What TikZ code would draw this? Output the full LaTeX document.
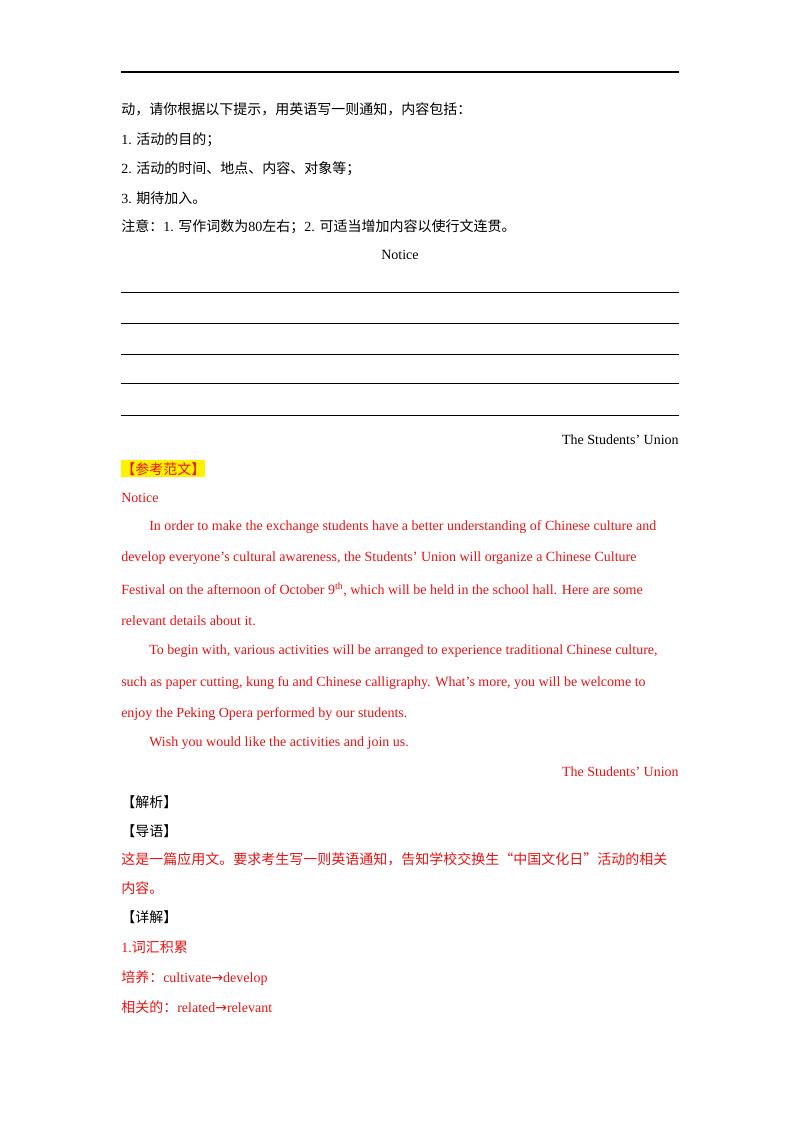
\documentclass[tikz,border=0pt]{standalone}
\usepackage{fontspec}
\setmainfont{Liberation Serif}
\newfontfamily\cjk{Noto Sans CJK SC}
\newfontfamily\arrfont{DejaVu Sans}
\definecolor{rd}{RGB}{230,20,20}
\begin{document}
\begin{tikzpicture}[x=0.75pt,y=-0.75pt,
  t/.style={anchor=west,inner sep=0pt,font=\fontsize{10.5}{12}\selectfont},
  r/.style={t,text=rd},
  rr/.style={anchor=east,inner sep=0pt,font=\fontsize{10.5}{12}\selectfont}]
\useasboundingbox[fill=white] (0,0) rectangle (800,1132);
\draw[line width=1.2pt] (121,72) -- (679,72);
\foreach \yy in {292,323,354,383,415} \draw[line width=0.5pt] (121,\yy) -- (679,\yy);
\node[t] (a1) at (121,109) {\cjk 动，请你根据以下提示，用英语写一则通知，内容包括：};
\node[t] (a2) at (121,140) {1. {\cjk 活动的目的；}};
\node[t] (a3) at (121,169) {2. {\cjk 活动的时间、地点、内容、对象等；}};
\node[t] (a4) at (121,198) {3. {\cjk 期待加入。}};
\node[t] (a5) at (121,227) {{\cjk 注意：}1. {\cjk 写作词数为}80{\cjk 左右；}2. {\cjk 可适当增加内容以使行文连贯。}};
\node[t,anchor=center] (n1) at (400,255) {Notice};
\node[rr] (s1) at (679,440) {The Students’ Union};
\fill[yellow] (121,460) rectangle (205,477);
\node[r] (h1) at (121,469) {\cjk 【参考范文】};
\node[r] (n2) at (121,498) {Notice};
\node[r] (p1) at (149,527) {In order to make the exchange students have a better understanding of Chinese culture and};
\node[r] (p2) at (121,558) {develop everyone’s cultural awareness, the Students’ Union will organize a Chinese Culture};
\node[r] (p3) at (121,590) {Festival on the afternoon of October 9\textsuperscript{th}, which will be held in the school hall. Here are some};
\node[r] (p4) at (121,621) {relevant details about it.};
\node[r] (p5) at (149,651) {To begin with, various activities will be arranged to experience traditional Chinese culture,};
\node[r] (p6) at (121,683) {such as paper cutting, kung fu and Chinese calligraphy. What’s more, you will be welcome to};
\node[r] (p7) at (121,714) {enjoy the Peking Opera performed by our students.};
\node[r] (p8) at (149,743) {Wish you would like the activities and join us.};
\node[rr,text=rd] (s2) at (679,772) {The Students’ Union};
\node[t] (j1) at (121,802) {\cjk 【解析】};
\node[t] (j2) at (121,831) {\cjk 【导语】};
\node[r] (j3) at (121,859) {\cjk 这是一篇应用文。要求考生写一则英语通知，告知学校交换生“中国文化日”活动的相关};
\node[r] (j4) at (121,888) {\cjk 内容。};
\node[t] (j5) at (121,917) {\cjk 【详解】};
\node[r] (j6) at (121,947) {1.{\cjk 词汇积累}};
\node[r] (j7) at (121,978) {{\cjk 培养：}cultivate{\arrfont →}develop};
\node[r] (j8) at (121,1007) {{\cjk 相关的：}related{\arrfont →}relevant};
\end{tikzpicture}
\end{document}
